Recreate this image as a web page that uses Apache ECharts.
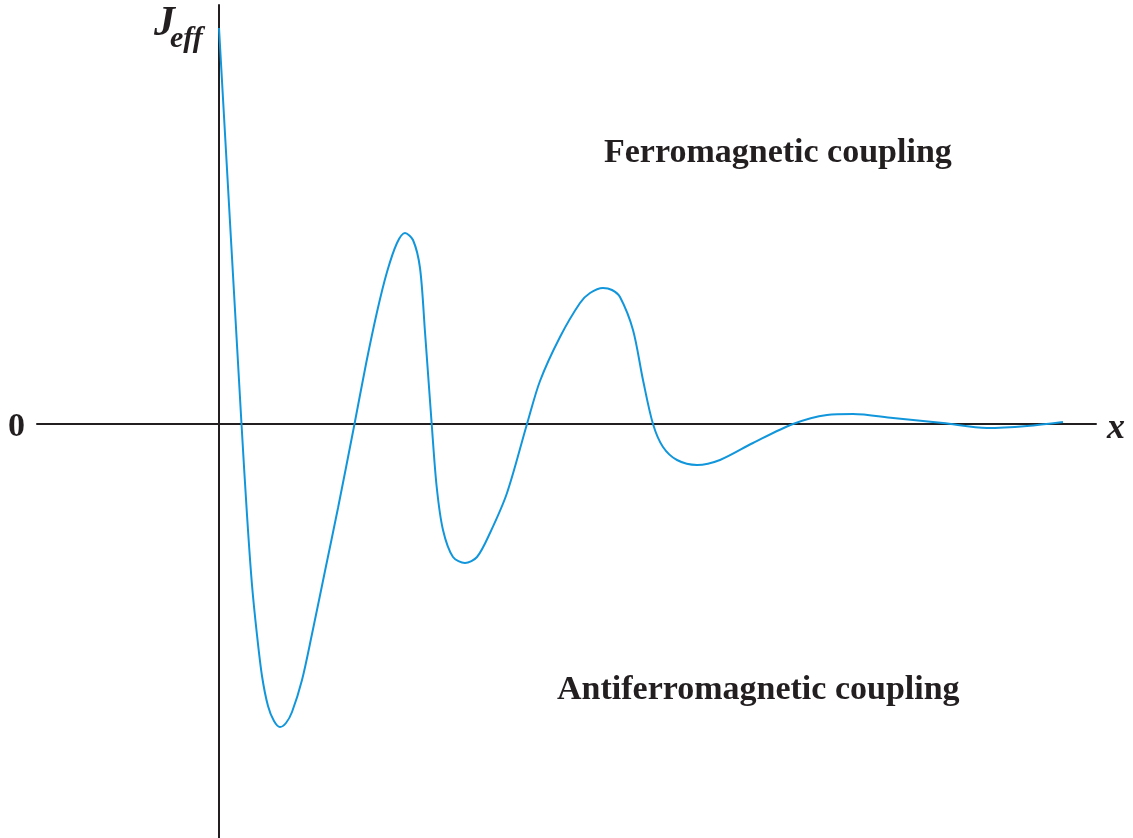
<!DOCTYPE html>
<html>
<head>
<meta charset="utf-8">
<title>J_eff oscillation</title>
<script src="https://cdn.jsdelivr.net/npm/echarts@6/dist/echarts.min.js"></script>
<style>
  html, body { margin: 0; padding: 0; background: #fff; }
  #chart { width: 1133px; height: 838px; }
</style>
</head>
<body>
<div id="chart"></div>
<script>
// distance along x (arbitrary units, y axis sits at 0)
const xValues = [
  0, 0.225, 0.28, 0.33, 0.38, 0.43, 0.49, 0.55, 0.61, 0.67, 0.73, 0.83, 0.93,
  1.06, 1.19, 1.355, 1.47, 1.58, 1.68, 1.78, 1.86, 1.94, 2.01, 2.06, 2.127, 2.177, 2.24, 2.34,
  2.46, 2.58, 2.71, 2.88, 3.08, 3.21, 3.41, 3.61, 3.71, 3.84, 3.93, 4.01, 4.14, 4.24, 4.34, 4.44, 4.58,
  4.78, 5.01, 5.34, 5.74, 6.08, 6.34, 6.74, 7.24, 7.68, 8.08, 8.44
];
// effective exchange coupling J_eff (arbitrary units)
const jValues = [
  3.96, 0, -0.91, -1.61, -2.11, -2.52, -2.82, -2.97, -3.03, -2.99, -2.88, -2.56, -2.10,
  -1.47, -0.84, 0, 0.60, 1.12, 1.52, 1.81, 1.91, 1.84, 1.56, 0.92, 0, -0.63, -1.06, -1.33,
  -1.39, -1.33, -1.09, -0.69, 0, 0.43, 0.87, 1.21, 1.31, 1.36, 1.34, 1.27, 0.94, 0.44, 0, -0.23, -0.36,
  -0.41, -0.36, -0.19, 0, 0.09, 0.10, 0.06, 0.01, -0.04, -0.02, 0.02
];
const regionLabels = ["Ferromagnetic coupling", "Antiferromagnetic coupling"];
const yName = ["J", "eff"];
const zeroLabel = "0";
const xName = "x";

const ink = "#231f20";
const serif = "'Liberation Serif', 'DejaVu Serif', serif";

const chart = echarts.init(document.getElementById("chart"), null, { renderer: "canvas" });

chart.setOption({
  animation: false,
  backgroundColor: "#fff",
  grid: { left: 37, right: 37, top: 5, bottom: 0, containLabel: false },
  xAxis: {
    type: "value",
    min: -1.82,
    max: 8.77,
    axisLine: { show: true, onZero: true, lineStyle: { color: ink, width: 2 } },
    axisTick: { show: false },
    axisLabel: { show: false },
    splitLine: { show: false }
  },
  yAxis: {
    type: "value",
    min: -4.14,
    max: 4.19,
    axisLine: { show: true, onZero: true, lineStyle: { color: ink, width: 2 } },
    axisTick: { show: false },
    axisLabel: { show: false },
    splitLine: { show: false }
  },
  graphic: [
    { type: "text", left: 154, top: 3, style: { text: yName[0], font: "italic bold 42px " + serif, fill: ink } },
    { type: "text", left: 170, top: 24, style: { text: yName[1], font: "italic bold 30px " + serif, fill: ink } },
    { type: "text", left: 8, top: 410, style: { text: zeroLabel, font: "bold 34px " + serif, fill: ink } },
    { type: "text", left: 1107, top: 411, style: { text: xName, font: "italic bold 36px " + serif, fill: ink } },
    { type: "text", left: 604, top: 136, style: { text: regionLabels[0], font: "bold 34px " + serif, fill: ink } },
    { type: "text", left: 557, top: 673, style: { text: regionLabels[1], font: "bold 34px " + serif, fill: ink } }
  ],
  series: [
    {
      type: "line",
      data: xValues.map((x, i) => [x, jValues[i]]),
      smooth: 0.3,
      showSymbol: false,
      lineStyle: { color: "#1296db", width: 2 },
      z: 5
    }
  ]
});
</script>
</body>
</html>
